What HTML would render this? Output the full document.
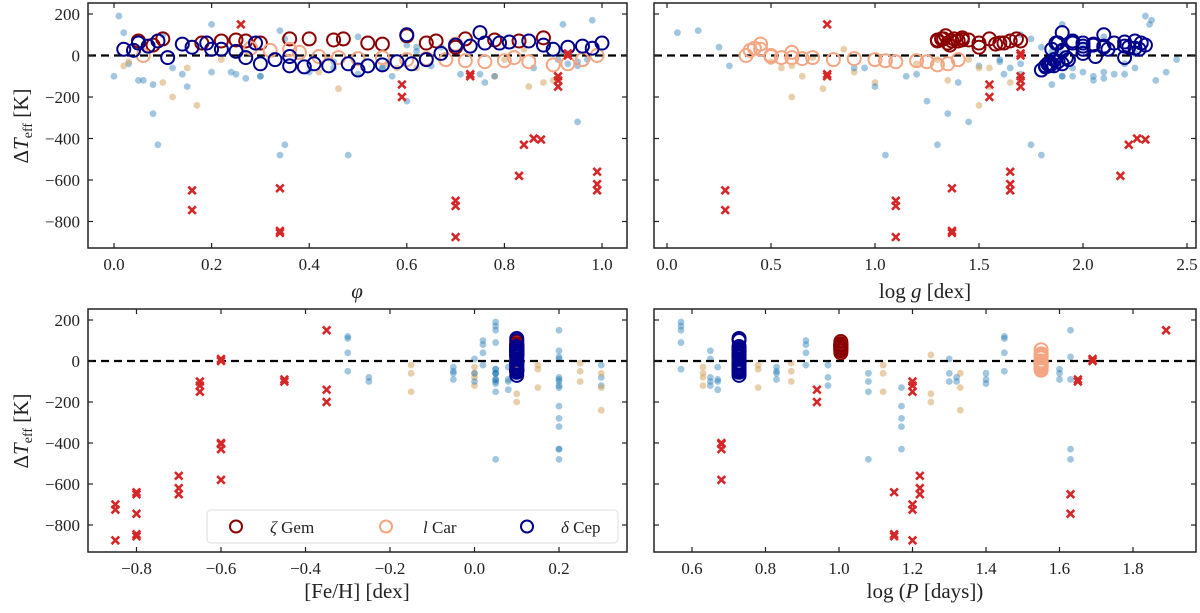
<!DOCTYPE html>
<html><head><meta charset="utf-8"><style>
html,body{margin:0;padding:0;background:#fff;}
svg{display:block;font-family:"Liberation Serif",serif;}
</style></head><body>
<svg id="fig" width="1200" height="613" viewBox="0 0 1200 613" xmlns="http://www.w3.org/2000/svg"></svg>
<script>
// ---- data ----
const yTicks=[200,0,-200,-400,-600,-800];
const phiTicks=[0,0.2,0.4,0.6,0.8,1.0];
const loggTicks=[0,0.5,1.0,1.5,2.0,2.5];
const fehTicks=[-0.8,-0.6,-0.4,-0.2,0.0,0.2];
const logpTicks=[0.6,0.8,1.0,1.2,1.4,1.6,1.8];
// light stars: [feh, logP, colorIdx]
const lightStars=[[0.05,0.57,0],[0.0,0.63,1],[0.2,0.65,0],[0.08,0.67,0],[0.15,0.78,1],[-0.05,0.83,0],[0.25,0.87,1],[0.02,0.91,0],[0.3,0.97,0],[0.05,1.08,0],[-0.15,1.12,1],[0.2,1.17,0],[0.1,1.25,1],[0.0,1.3,0],[0.3,1.33,1],[0.05,1.4,0],[-0.3,1.45,0],[0.2,1.63,0],[-0.25,1.32,0],[0.05,1.6,0]];
// observations: [star, phi, logg, dT]
const lightObs=[[0,0.01,2.3,190],[0,0.2,2.32,150],[0,0.5,2.1,90],[0,0.98,2.33,170],[0,0.03,2.2,-40],
[1,0.03,0.5,-30],[1,0.15,0.55,-60],[1,0.42,0.9,-80],[1,0.9,1.35,-120],
[2,0.05,2.05,-120],[2,0.2,2.1,-80],[2,0.6,2.0,50],[2,0.93,2.25,10],[2,0.3,1.95,-100],
[3,0.0,1.9,-100],[3,0.08,1.85,-140],[3,0.45,1.9,-30],[3,0.75,2.15,-90],
[4,0.1,1.0,-130],[4,0.56,1.2,-40],[4,0.8,1.3,-20],
[5,0.12,0.9,-60],[5,0.25,1.2,-90],[5,0.65,1.5,-50],[5,0.95,1.6,-30],
[6,0.02,0.6,-50],[6,0.44,0.7,-10],[6,0.78,0.65,-100],
[7,0.1,1.7,100],[7,0.35,1.75,80],[7,0.62,1.8,40],[7,0.97,1.6,-20],
[8,0.06,2.35,-120],[8,0.4,2.4,-80],[8,0.91,2.45,-20],
[9,0.15,1.0,-150],[9,0.48,1.05,-480],[9,0.78,1.15,-100],[9,0.55,0.95,-60],
[10,0.22,1.45,-20],[10,0.58,1.5,-60],[10,0.85,1.55,-150],
[11,0.08,1.35,-280],[11,0.35,1.3,-430],[11,0.6,1.25,-220],[11,0.76,1.4,-130],[11,0.95,1.45,-320],
[12,0.12,0.6,-200],[12,0.46,0.75,-160],[12,0.84,0.85,30],
[13,0.3,1.9,-100],[13,0.55,1.95,-60],[13,0.92,1.9,10],
[14,0.17,1.5,-240],[14,0.88,1.65,-130],[14,0.62,1.55,-60],
[15,0.27,2.1,-110],[15,0.5,2.2,-90],[15,0.86,2.25,-60],
[16,0.02,0.05,110],[16,0.34,0.15,120],[16,0.67,0.25,40],[16,0.95,0.3,-50],
[17,0.09,1.75,-430],[17,0.34,1.8,-480],[17,0.62,1.85,20],[17,0.92,1.9,150],[17,0.71,1.7,-90],
[18,0.24,2.0,-80],[18,0.57,2.05,-100],
[19,0.14,1.62,-90],[19,0.45,1.65,-60],[19,0.93,1.7,-40]];
// circle stars: [phi, logg, dT]; fixed feh/logP per star
const zetaGemFeh=0.1, zetaGemLogP=1.005;
const lCarFeh=0.1, lCarLogP=1.55;
const deltaCepFeh=0.1, deltaCepLogP=0.728;
const zetaGem=[[0.05,1.3,70],[0.1,1.33,80],[0.08,1.36,50],[0.18,1.35,60],[0.22,1.4,70],[0.25,1.45,75],[0.3,1.5,60],[0.36,1.32,80],[0.4,1.38,80],[0.45,1.42,75],[0.47,1.55,80],[0.52,1.6,60],[0.55,1.58,55],[0.64,1.62,60],[0.66,1.65,70],[0.72,1.68,80],[0.78,1.3,75],[0.83,1.37,70],[0.88,1.42,85],[0.27,1.7,70],[0.6,1.34,95],[0.7,1.5,40]];
const lCar=[[0.32,0.4,25],[0.36,0.45,30],[0.38,0.6,15],[0.42,0.5,-5],[0.46,0.55,-10],[0.5,0.65,-15],[0.55,0.7,-10],[0.6,0.8,-20],[0.64,0.9,-15],[0.68,1.0,-20],[0.72,1.05,-25],[0.76,1.1,-30],[0.8,1.2,-25],[0.85,1.25,-30],[0.9,1.3,-45],[0.93,1.35,-40],[0.96,1.4,-20],[0.99,0.38,0],[0.28,0.42,35],[0.06,0.5,0],[0.82,0.6,-10],[0.7,0.45,55]];
const deltaCep=[[0.02,1.85,30],[0.04,1.9,25],[0.05,1.88,60],[0.07,2.0,45],[0.09,1.95,70],[0.11,1.92,-10],[0.14,2.05,55],[0.16,2.1,40],[0.19,1.87,60],[0.22,2.0,30],[0.25,1.9,20],[0.27,2.2,-10],[0.3,1.83,-40],[0.33,1.86,-20],[0.36,1.84,-50],[0.39,1.82,-55],[0.41,1.85,-40],[0.44,1.82,-50],[0.48,1.84,-40],[0.52,1.86,-50],[0.55,1.84,-45],[0.58,1.88,-30],[0.61,1.9,-40],[0.64,1.93,-20],[0.67,2.0,10],[0.7,2.05,50],[0.73,2.1,45],[0.76,2.0,60],[0.79,2.15,60],[0.81,2.2,65],[0.85,2.25,70],[0.88,2.3,50],[0.9,2.27,30],[0.93,2.22,40],[0.96,2.2,45],[0.98,2.25,35],[1.0,2.28,60],[0.36,2.06,-5],[0.29,1.95,60],[0.2,2.12,30],[0.5,1.8,-70],[0.6,2.1,100],[0.75,1.9,110]];
// outliers: [phi, logg, feh, logP, dT]
const outliers=[[0.16,0.28,-0.8,1.63,-650],[0.16,0.28,-0.8,1.63,-745],
[0.34,1.37,-0.8,1.15,-640],[0.34,1.37,-0.8,1.15,-845],[0.34,1.37,-0.8,1.15,-855],
[0.70,1.1,-0.85,1.2,-700],[0.70,1.1,-0.85,1.2,-725],[0.70,1.1,-0.85,1.2,-875],
[0.99,1.65,-0.7,1.22,-560],[0.99,1.65,-0.7,1.22,-620],[0.99,1.65,-0.7,1.22,-650],
[0.83,2.18,-0.6,0.68,-580],[0.84,2.22,-0.6,0.68,-430],[0.86,2.26,-0.6,0.68,-400],[0.875,2.3,-0.6,0.68,-405],
[0.59,1.55,-0.35,0.94,-140],[0.59,1.55,-0.35,0.94,-200],
[0.73,0.77,-0.45,1.65,-90],[0.73,0.77,-0.45,1.65,-100],
[0.91,1.7,-0.65,1.2,-100],[0.91,1.7,-0.65,1.2,-150],[0.91,1.7,-0.65,1.2,-120],
[0.26,0.77,-0.35,1.89,150],
[0.93,1.7,-0.6,1.69,10],[0.93,1.7,-0.6,1.69,0]];

// ---- drawing ----
const NS="http://www.w3.org/2000/svg";
const svg=document.getElementById('fig');
function mk(tag,attrs,parent){const e=document.createElementNS(NS,tag);for(const k in attrs)e.setAttribute(k,attrs[k]);(parent||svg).appendChild(e);return e;}
const lightCols=['rgba(31,119,180,0.42)','rgba(215,165,100,0.55)'];
const fmt=v=>(v<0?'\u2212':'')+Math.abs(v).toFixed(1);

const panels=[
 {name:'phi',x0:88,x1:627,y0:3,y1:248,xs:v=>114+v*488,ys:v=>55.5-v*0.2075,ticks:phiTicks,ylab:true,xi:0},
 {name:'logg',x0:654,x1:1196,y0:3,y1:248,xs:v=>667+v*208,ys:v=>55.5-v*0.2075,ticks:loggTicks,ylab:false,xi:1},
 {name:'feh',x0:88,x1:627,y0:309,y1:552,xs:v=>136.5+(v+0.8)*422.5,ys:v=>361-v*0.205,ticks:fehTicks,ylab:true,xi:2},
 {name:'logp',x0:654,x1:1196,y0:309,y1:552,xs:v=>692+(v-0.6)*367.5,ys:v=>361-v*0.205,ticks:logpTicks,ylab:false,xi:3}
];

panels.forEach((p,pi)=>{
 const g=mk('g',{});
 
 
 const cid='clip'+pi;
 const cp=mk('clipPath',{id:cid},g);mk('rect',{x:p.x0,y:p.y0,width:p.x1-p.x0,height:p.y1-p.y0},cp);
 const marks=mk('g',{'clip-path':'url(#'+cid+')'},g);
 
 
 const X=(obs)=>p.xs([obs.phi,obs.logg,obs.feh,obs.logp][p.xi]);
 lightObs.forEach(o=>{
  const s=lightStars[o[0]];
  const c=mk('circle',{cx:X({phi:o[1],logg:o[2],feh:s[0],logp:s[1]}),cy:p.ys(o[3]),r:3.4,fill:lightCols[s[2]]},marks);
  
  
 });
 const zl=mk('line',{x1:p.x0,x2:p.x1,y1:p.ys(0),y2:p.ys(0),stroke:'#000','stroke-width':2.2,'stroke-dasharray':'8,5'},marks);
 
 
 const sets=[[zetaGem,'#8b0000',zetaGemFeh,zetaGemLogP,'zeta-gem-point'],[lCar,'#f4a582',lCarFeh,lCarLogP,'l-car-point'],[deltaCep,'#00008b',deltaCepFeh,deltaCepLogP,'delta-cep-point']];
 sets.forEach(st=>{
  st[0].forEach(o=>{
   const c=mk('circle',{cx:X({phi:o[0],logg:o[1],feh:st[2],logp:st[3]}),cy:p.ys(o[2]),r:6.5,fill:'none',stroke:st[1],'stroke-width':2},marks);
   
   
  });
 });
 outliers.forEach(o=>{
  const cx=X({phi:o[0],logg:o[1],feh:o[2],logp:o[3]}),cy=p.ys(o[4]),d=3.8;
  const path=mk('path',{d:`M${cx-d},${cy-d}L${cx+d},${cy+d}M${cx-d},${cy+d}L${cx+d},${cy-d}`,stroke:'#d62728','stroke-width':2.6,fill:'none'},marks);
  
  
 });
 const fr=mk('rect',{x:p.x0,y:p.y0,width:p.x1-p.x0,height:p.y1-p.y0,fill:'none',stroke:'#222','stroke-width':1.5},g);
 
 
 p.ticks.forEach(t=>{
  const x=p.xs(t);
  mk('line',{x1:x,x2:x,y1:p.y1,y2:p.y1-5,stroke:'#222','stroke-width':1.2},g);
  mk('line',{x1:x,x2:x,y1:p.y0,y2:p.y0+5,stroke:'#222','stroke-width':1.2},g);
  const tx=mk('text',{x:x,y:p.y1+22,'text-anchor':'middle','font-size':17,fill:'#222'},g);
  tx.textContent=fmt(t);
  
  
 });
 yTicks.forEach(t=>{
  const y=p.ys(t);
  mk('line',{x1:p.x0,x2:p.x0+5,y1:y,y2:y,stroke:'#222','stroke-width':1.2},g);
  mk('line',{x1:p.x1,x2:p.x1-5,y1:y,y2:y,stroke:'#222','stroke-width':1.2},g);
  if(p.ylab){
   const tx=mk('text',{x:p.x0-8,y:y+6,'text-anchor':'end','font-size':17,fill:'#222'},g);
   tx.textContent=t<0?'\u2212'+Math.abs(t):String(t);
   
   
  }
 });
});

function title(x,y,html,name,rot){
 const t=mk('text',{x:x,y:y,'text-anchor':'middle','font-size':21,fill:'#222'});
 if(rot)t.setAttribute('transform',`rotate(-90 ${x} ${y})`);
 t.innerHTML=html;
 
 
}
title(357,298,'<tspan font-style="italic">φ</tspan>','x-axis-title-phi');
title(925,298,'log <tspan font-style="italic">g</tspan> [dex]','x-axis-title-logg');
title(357,598,'[Fe/H] [dex]','x-axis-title-feh');
title(925,598,'log (<tspan font-style="italic">P</tspan> [days])','x-axis-title-logp');
title(28,126,'Δ<tspan font-style="italic">T</tspan><tspan font-size="14" dy="4">eff</tspan><tspan dy="-4"> [K]</tspan>','y-axis-title-top',true);
title(28,431,'Δ<tspan font-style="italic">T</tspan><tspan font-size="14" dy="4">eff</tspan><tspan dy="-4"> [K]</tspan>','y-axis-title-bottom',true);

const lg=mk('g',{});


mk('rect',{x:207,y:510,width:411,height:33,rx:4,fill:'rgba(255,255,255,0.85)',stroke:'#ddd','stroke-width':1},lg);
const entries=[[236,'#8b0000','<tspan font-style="italic">ζ</tspan> Gem',270,'legend-entry-zeta-gem'],[386,'#f4a582','<tspan font-style="italic">l</tspan> Car',423,'legend-entry-l-car'],[527,'#00008b','<tspan font-style="italic">δ</tspan> Cep',561,'legend-entry-delta-cep']];
entries.forEach(e=>{
 const eg=mk('g',{},lg);
 
 
 mk('circle',{cx:e[0],cy:526.5,r:6,fill:'none',stroke:e[1],'stroke-width':2},eg);
 const t=mk('text',{x:e[3],y:533,'font-size':17,fill:'#222'},eg);
 t.innerHTML=e[2];
});
</script>
</body></html>
